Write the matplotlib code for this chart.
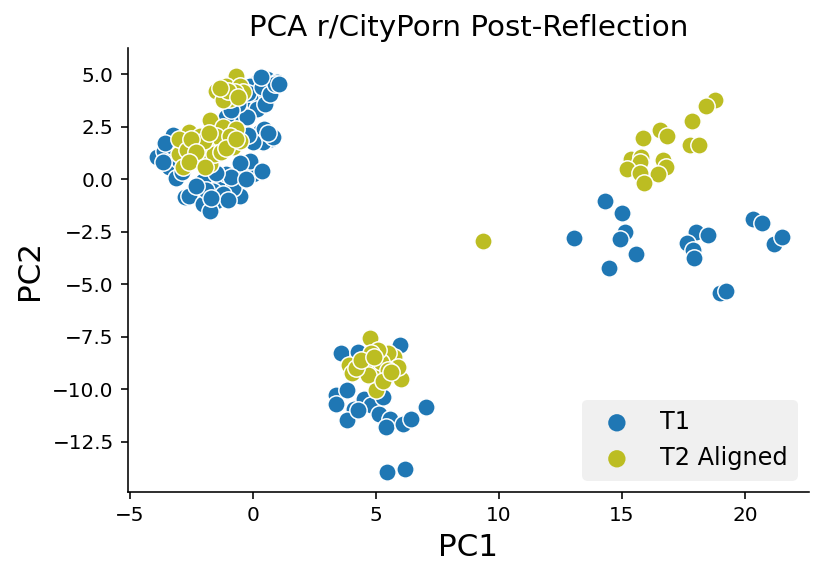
import matplotlib
matplotlib.use("Agg")
import matplotlib.pyplot as plt
import numpy as np

# ---- data ----
t1_x = [
    # top-left cluster, upper
    0.56, 0.97, 0.77, 0.15, -0.12, 0.29, 0.01, -0.40, -0.53, -0.81, 0.15, -0.26, -1.08, 0.56, 0.50, -0.20, 0.35, -0.60, 0.70, -0.90, 0.89, 0.33, 1.05,
    # right sub-cluster
    0.29, 0.45, 0.74, 0.41, 0.00, -0.20, 0.83, 0.60,
    # left
    -3.89, -3.60, -3.40, -3.13, -3.30, -3.00, -3.65, -2.90, -3.20, -2.75, -2.60, -3.24, -3.58,
    # lower
    -2.04, -1.35, -1.08, -0.40, 0.01, -2.58, -2.04, -1.49, -1.76, -0.53, -0.81, -1.63, -0.12, 0.37, -0.53, -1.90, -1.20, -0.90, -1.50, -2.30, -1.00, -0.30, -1.70,
    # bottom cluster
    3.57, 4.25, 5.98, 3.36, 3.36, 3.84, 4.11, 3.84, 4.52, 4.80, 5.14, 5.27, 5.55, 5.41, 6.09, 6.43, 7.05, 5.44, 6.19, 4.25,
    # right cluster
    13.06, 14.30, 15.01, 15.11, 14.91, 15.56, 14.47, 18.00, 18.48, 17.66, 17.88, 17.91, 20.34, 20.68, 21.16, 21.50, 18.98, 19.21,
]
t1_y = [
    4.78, 4.63, 4.31, 4.63, 4.46, 3.99, 3.67, 3.51, 3.19, 3.03, 3.35, 2.95, 2.95, 3.99, 3.60, 4.10, 4.40, 3.60, 4.05, 3.30, 4.54, 4.87, 4.55,
    2.25, 2.39, 1.91, 1.77, 1.77, 2.10, 2.00, 2.20,
    1.05, 1.35, 0.56, 0.08, 1.60, 0.90, 0.80, 0.35, 1.90, -0.86, 1.30, 2.10, 1.71,
    -0.08, -0.24, 0.24, 0.56, 0.24, -0.80, -1.20, -1.04, -1.52, -0.80, -0.40, -0.56, 0.88, 0.38, 0.77, -0.50, -0.70, 0.10, 0.30, -0.30, -1.00, 0.00, -0.90,
    -8.29, -8.21, -7.90, -10.29, -10.69, -10.05, -10.92, -11.48, -10.45, -10.77, -11.17, -10.37, -11.40, -11.80, -11.64, -11.40, -10.85, -13.96, -13.80, -11.00,
    -2.82, -1.04, -1.59, -2.50, -2.84, -3.56, -4.23, -2.50, -2.66, -3.03, -3.38, -3.75, -1.87, -2.07, -3.08, -2.76, -5.42, -5.30,
]

t2_x = [
    # top-left, upper
    -0.67, -1.28, -1.49, -1.08, -0.53, -0.40, -0.94, -1.22, -0.74, -1.00, -1.35, -0.60,
    # top-left, main
    -2.86, -2.45, -3.00, -2.04, -2.86, -1.76, -1.49, -0.81, -1.08, -0.53, -2.17, -1.76, -2.58, -1.22, -0.67, -2.17, -2.99, -1.49, -0.94,
    -2.40, -1.90, -2.20, -2.70, -1.60, -2.00, -1.30, -2.50, -1.80, -2.30, -1.10, -0.70, -2.60, -1.95,
    # bottom cluster
    4.75, 4.93, 6.02, 5.00, 3.91, 4.04, 5.75, 5.48, 4.52, 5.20, 4.66, 5.89, 4.18, 5.48, 5.07, 4.80, 4.40, 5.30, 4.90, 5.60,
    # outlier
    9.33,
    # right cluster
    18.76, 18.41, 17.86, 16.54, 16.82, 15.86, 17.77, 18.14, 15.38, 15.79, 15.75, 16.65, 16.77, 15.22, 15.75, 16.48, 15.89,
]
t2_y = [
    4.94, 3.99, 4.22, 4.46, 4.46, 4.15, 3.83, 3.75, 4.15, 4.20, 4.35, 3.90,
    1.83, 1.52, 1.20, 1.20, 0.56, 0.72, 1.67, 1.52, 1.83, 1.83, 1.99, 2.80, 2.23, 2.47, 2.39, 2.07, 1.91, 2.07, 2.07,
    1.00, 1.50, 0.90, 1.40, 1.20, 1.80, 1.30, 1.90, 2.20, 1.30, 1.50, 1.90, 0.80, 0.60,
    -7.58, -9.09, -9.49, -10.05, -8.85, -9.25, -8.45, -8.29, -8.77, -8.69, -9.33, -8.93, -9.01, -9.09, -8.13, -8.29, -8.60, -9.60, -8.45, -9.20,
    -2.95,
    3.79, 3.51, 2.76, 2.34, 2.07, 1.95, 1.63, 1.63, 0.96, 1.04, 0.83, 0.91, 0.56, 0.48, 0.29, 0.24, -0.16,
]

series_labels = ["T1", "T2 Aligned"]
series_colors = ["#1f77b4", "#bcbd22"]
title = "PCA r/CityPorn Post-Reflection"
x_label = "PC1"
y_label = "PC2"

# ---- plot ----
fig = plt.figure(figsize=(831 / 144, 577 / 144), dpi=144)
ax = fig.add_axes([127.7 / 831, 1 - 491.7 / 577, (809.3 - 127.7) / 831, (491.7 - 48) / 577])

for xs, ys, lab, col in zip([t1_x, t2_x], [t1_y, t2_y], series_labels, series_colors):
    ax.scatter(xs, ys, s=75, color=col, edgecolor="white", linewidth=0.75, label=lab)

ax.set_xlim(-5.09, 22.61)
ax.set_ylim(-14.88, 6.25)
ax.set_xticks([-5, 0, 5, 10, 15, 20])
ax.set_yticks([5.0, 2.5, 0.0, -2.5, -5.0, -7.5, -10.0, -12.5])
ax.set_yticklabels(["5.0", "2.5", "0.0", "\u22122.5", "\u22125.0", "\u22127.5", "\u221210.0", "\u221212.5"])
ax.tick_params(labelsize=10, length=3.5, width=0.8)
for side in ["top", "right"]:
    ax.spines[side].set_visible(False)

ax.set_title(title, fontsize=14.7)
ax.set_xlabel(x_label, fontsize=15.5)
ax.set_ylabel(y_label, fontsize=15.5)

leg = ax.legend(loc="lower right", fontsize=12, facecolor="#f0f0f0", edgecolor="#f0f0f0",
                framealpha=1.0, borderpad=0.4, handletextpad=0.8)
for h in leg.legend_handles:
    h.set_edgecolor("none")

fig.savefig("out.png", dpi=144)
